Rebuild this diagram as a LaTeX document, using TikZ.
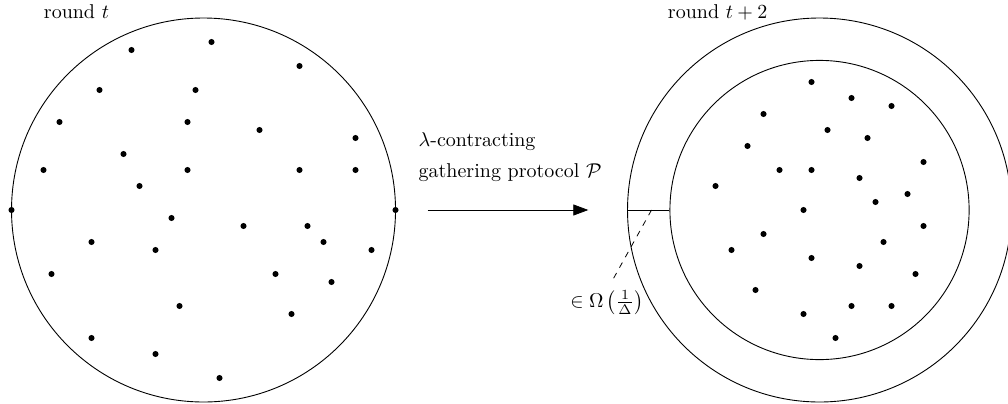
\documentclass[tikz,border=0pt]{standalone}
\usetikzlibrary{arrows.meta}
\begin{document}
\begin{tikzpicture}[x=4pt,y=4pt,
  ring/.style={draw,circle,inner sep=0pt,line width=0.45pt},
  pt/.style={fill=black},
  lbl/.style={inner sep=0pt,font=\normalsize}]
\useasboundingbox (-25.44,-24.125) rectangle (100.56,26.25);
% left configuration
\node[ring,minimum size=192pt] (L) at (0,0) {};
\foreach \p in {(-9,20),(1,21),(12,18),(-13,15),(-1,15),(-18,11),(-2,11),(7,10),(19,9),(-10,7),(-20,5),(-2,5),(12,5),(19,5),(-8,3),(-24,0),(24,0),(-4,-1),(5,-2),(13,-2),(-14,-4),(-6,-5),(15,-4),(21,-5),(-19,-8),(9,-8),(16,-9),(-3,-12),(11,-13),(-14,-16),(-6,-18),(2,-21)}
  \fill \p circle (0.38);
\node[lbl,anchor=base west] (rt) at (-20,24) {round $t$};
% right configuration
\node[ring,minimum size=192pt] (R) at (77,0) {};
\node[ring,minimum size=149.6pt] (Ri) at (77,0) {};
\begin{scope}[shift={(77,0)}]
\foreach \p in {(-1,16),(4,14),(9,13),(-7,12),(1,10),(6,9),(-9,8),(13,6),(-5,5),(-1,5),(5,4),(-13,3),(11,2),(7,1),(-2,0),(13,-2),(-7,-3),(8,-4),(-11,-5),(-1,-6),(5,-7),(12,-8),(-8,-10),(4,-12),(9,-12),(-2,-13),(2,-16)}
  \fill \p circle (0.38);
\end{scope}
\node[lbl,anchor=base west] (rt2) at (58,24) {round $t+2$};
% arrow and labels
\coordinate (a1) at (28,0);
\coordinate (a2) at (48.1,0);
\draw[-{Triangle[length=7.5pt,width=5.5pt]}] (a1) -- (a2);
\node[lbl,anchor=base west] (l1) at (26.85,8) {$\lambda$-contracting};
\node[lbl,anchor=base west] (l2) at (26.85,4.1) {gathering protocol $\mathcal{P}$};
% width marker
\draw (R.west) -- (Ri.west);
\coordinate (d1) at (56,0);
\coordinate (d2) at (51,-9);
\draw[dashed] (d1) -- (d2);
\node[lbl,anchor=north] (om) at (50.4,-10) {$\in\Omega\left(\frac{1}{\Delta}\right)$};
\end{tikzpicture}
\end{document}
